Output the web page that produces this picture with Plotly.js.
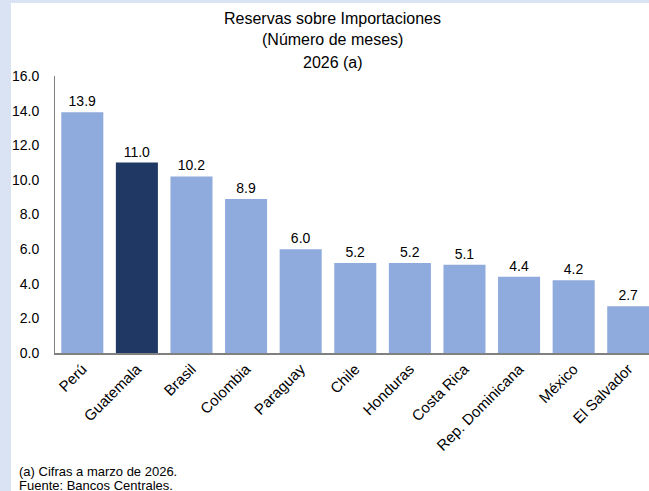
<!DOCTYPE html>
<html>
<head>
<meta charset="utf-8">
<script src="https://cdn.plot.ly/plotly-3.0.1.min.js"></script>
<style>
  html, body { margin: 0; padding: 0; background: #dae3f3; width: 649px; height: 491px; overflow: hidden; }
  #chart { position: absolute; left: 11px; top: 3px; width: 638px; height: 488px; background: #ffffff; }
</style>
</head>
<body>
<div id="chart"></div>
<script>
const countries = ["Perú", "Guatemala", "Brasil", "Colombia", "Paraguay", "Chile", "Honduras", "Costa Rica", "Rep. Dominicana", "México", "El Salvador"];
const months = [13.9, 11.0, 10.2, 8.9, 6.0, 5.2, 5.2, 5.1, 4.4, 4.2, 2.7];
const highlight = "Guatemala";
const yTicks = [0, 2, 4, 6, 8, 10, 12, 14, 16];
const titleLines = ["Reservas sobre Importaciones", "(Número de meses)", "2026 (a)"];
const noteLines = ["(a) Cifras a marzo de 2026.", "Fuente: Bancos Centrales."];

const font = "Arial, 'Liberation Sans', sans-serif";
const colors = countries.map(c => c === highlight ? "#203864" : "#8faadc");

const trace = {
  type: "bar",
  x: countries,
  y: months,
  marker: { color: colors, line: { width: 0 } },
  text: months.map(v => v.toFixed(1)),
  textposition: "outside",
  textfont: { family: font, size: 14, color: "#000000" },
  cliponaxis: false,
  hoverinfo: "none"
};

const titleY = [1.2058, 1.130, 1.0505];
const annotations = titleLines.map((t, i) => ({
  text: t, xref: "paper", yref: "paper",
  x: 0.468, y: titleY[i], xanchor: "center", yanchor: "middle",
  showarrow: false, font: { family: font, size: 16, color: "#000000" }
}));
const noteY = [-0.4296, -0.4783];
noteLines.forEach((t, i) => annotations.push({
  text: t, xref: "paper", yref: "paper",
  x: -0.064, y: noteY[i], xanchor: "left", yanchor: "middle",
  align: "left", showarrow: false,
  font: { family: font, size: 13, color: "#000000" }
}));

const layout = {
  width: 638,
  height: 488,
  margin: { l: 44, r: 0, t: 73, b: 138 },
  paper_bgcolor: "#ffffff",
  plot_bgcolor: "#ffffff",
  bargap: 0.23,
  showlegend: false,
  font: { family: font, color: "#000000" },
  xaxis: {
    type: "category",
    range: [-0.5, 10.38],
    tickangle: -45,
    tickfont: { family: font, size: 15, color: "#000000" },
    showline: true, linecolor: "#808080", linewidth: 1.5,
    ticks: "", showgrid: false, zeroline: false, fixedrange: true
  },
  yaxis: {
    range: [0, 16],
    tickvals: yTicks,
    ticktext: yTicks.map(v => v.toFixed(1)),
    tickfont: { family: font, size: 14, color: "#000000" },
    showline: true, linecolor: "#808080", linewidth: 1,
    ticks: "outside", ticklen: 12, tickcolor: "rgba(0,0,0,0)",
    showgrid: false, zeroline: false, fixedrange: true
  },
  annotations: annotations
};

Plotly.newPlot("chart", [trace], layout, { displayModeBar: false, staticPlot: true });
</script>
</body>
</html>
